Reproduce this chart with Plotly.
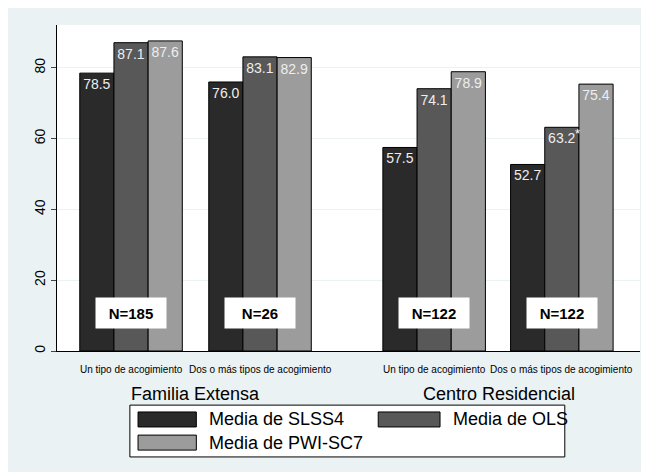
import plotly.graph_objects as go

centers = [0, 1, 2.35, 3.34]
subgroups = ["Un tipo de acogimiento", "Dos o más tipos de acogimiento",
             "Un tipo de acogimiento", "Dos o más tipos de acogimiento"]
groups = ["Familia Extensa", "Centro Residencial"]
n_labels = ["N=185", "N=26", "N=122", "N=122"]

slss4 = [78.5, 76.0, 57.5, 52.7]
ols = [87.1, 83.1, 74.1, 63.2]
pwi = [87.6, 82.9, 78.9, 75.4]

series = [("Media de SLSS4", slss4, "#2a2a2a"),
          ("Media de OLS", ols, "#585858"),
          ("Media de PWI-SC7", pwi, "#9c9c9c")]

FONT = "Liberation Sans Narrow, Liberation Sans, Arial"

fig = go.Figure()
w = 0.265
for i, (name, vals, col) in enumerate(series):
    fig.add_trace(go.Bar(
        x=centers, y=vals, name=name, width=w, offset=-1.5 * w + i * w,
        marker=dict(color=col, line=dict(color="black", width=1)),
        text=[f"{v:.1f}" for v in vals], textposition="inside",
        insidetextanchor="end", textangle=0,
        textfont=dict(color="#eeeeee", size=14, family=FONT),
    ))

# asterisk on the OLS bar of the last group
fig.add_annotation(x=centers[3] + 0.12, y=ols[3], text="*", showarrow=False,
                   yshift=-6, font=dict(color="white", size=13))

for c, n in zip(centers, n_labels):
    fig.add_annotation(x=c, y=10.7, text=f"<b>{n}</b>", showarrow=False,
                       bgcolor="white", width=68, height=28,
                       font=dict(size=15, color="black", family=FONT))

for c, s in zip(centers, subgroups):
    fig.add_annotation(x=c, y=-0.035, yref="paper", text=s, showarrow=False,
                       yanchor="top", font=dict(size=10, color="black", family=FONT))

for c, g in zip([0.5, 2.85], groups):
    fig.add_annotation(x=c, y=-0.095, yref="paper", text=g, showarrow=False,
                       yanchor="top", font=dict(size=18, color="black", family=FONT))

# hand-drawn legend box (Stata style)
fig.add_shape(type="rect", xref="paper", yref="paper", x0=0.125, x1=0.871,
              y0=-0.325, y1=-0.166, fillcolor="white", line=dict(color="black", width=1))
legend_pos = [(0.139, 0.239, -0.187, -0.233),
              (0.551, 0.657, -0.187, -0.233),
              (0.139, 0.239, -0.258, -0.304)]
for (name, vals, col), (x0, x1, y0, y1) in zip(series, legend_pos):
    fig.add_shape(type="rect", xref="paper", yref="paper", x0=x0, x1=x1, y0=y1, y1=y0,
                  fillcolor=col, line=dict(color="black", width=1))
    fig.add_annotation(x=x1 + 0.018, y=(y0 + y1) / 2, xref="paper", yref="paper",
                       text=name, showarrow=False, xanchor="left", yanchor="middle",
                       font=dict(size=18, color="black", family=FONT))

fig.update_layout(
    width=649, height=472,
    margin=dict(l=49, r=17, t=17, b=129),
    paper_bgcolor="#eaf2f3", plot_bgcolor="white",
    font=dict(family=FONT, color="black"),
    showlegend=False,
    xaxis=dict(range=[-0.574, 3.946], showticklabels=False, showgrid=False,
               zeroline=False, showline=True, linecolor="black", ticks=""),
    yaxis=dict(range=[0, 92.1], tickvals=[0, 20, 40, 60, 80], tickangle=-90,
               ticks="outside", ticklen=5, showline=True, linecolor="black",
               gridcolor="#eaf2f3", zeroline=False, tickfont=dict(size=14)),
)

fig.write_html("out.html")
